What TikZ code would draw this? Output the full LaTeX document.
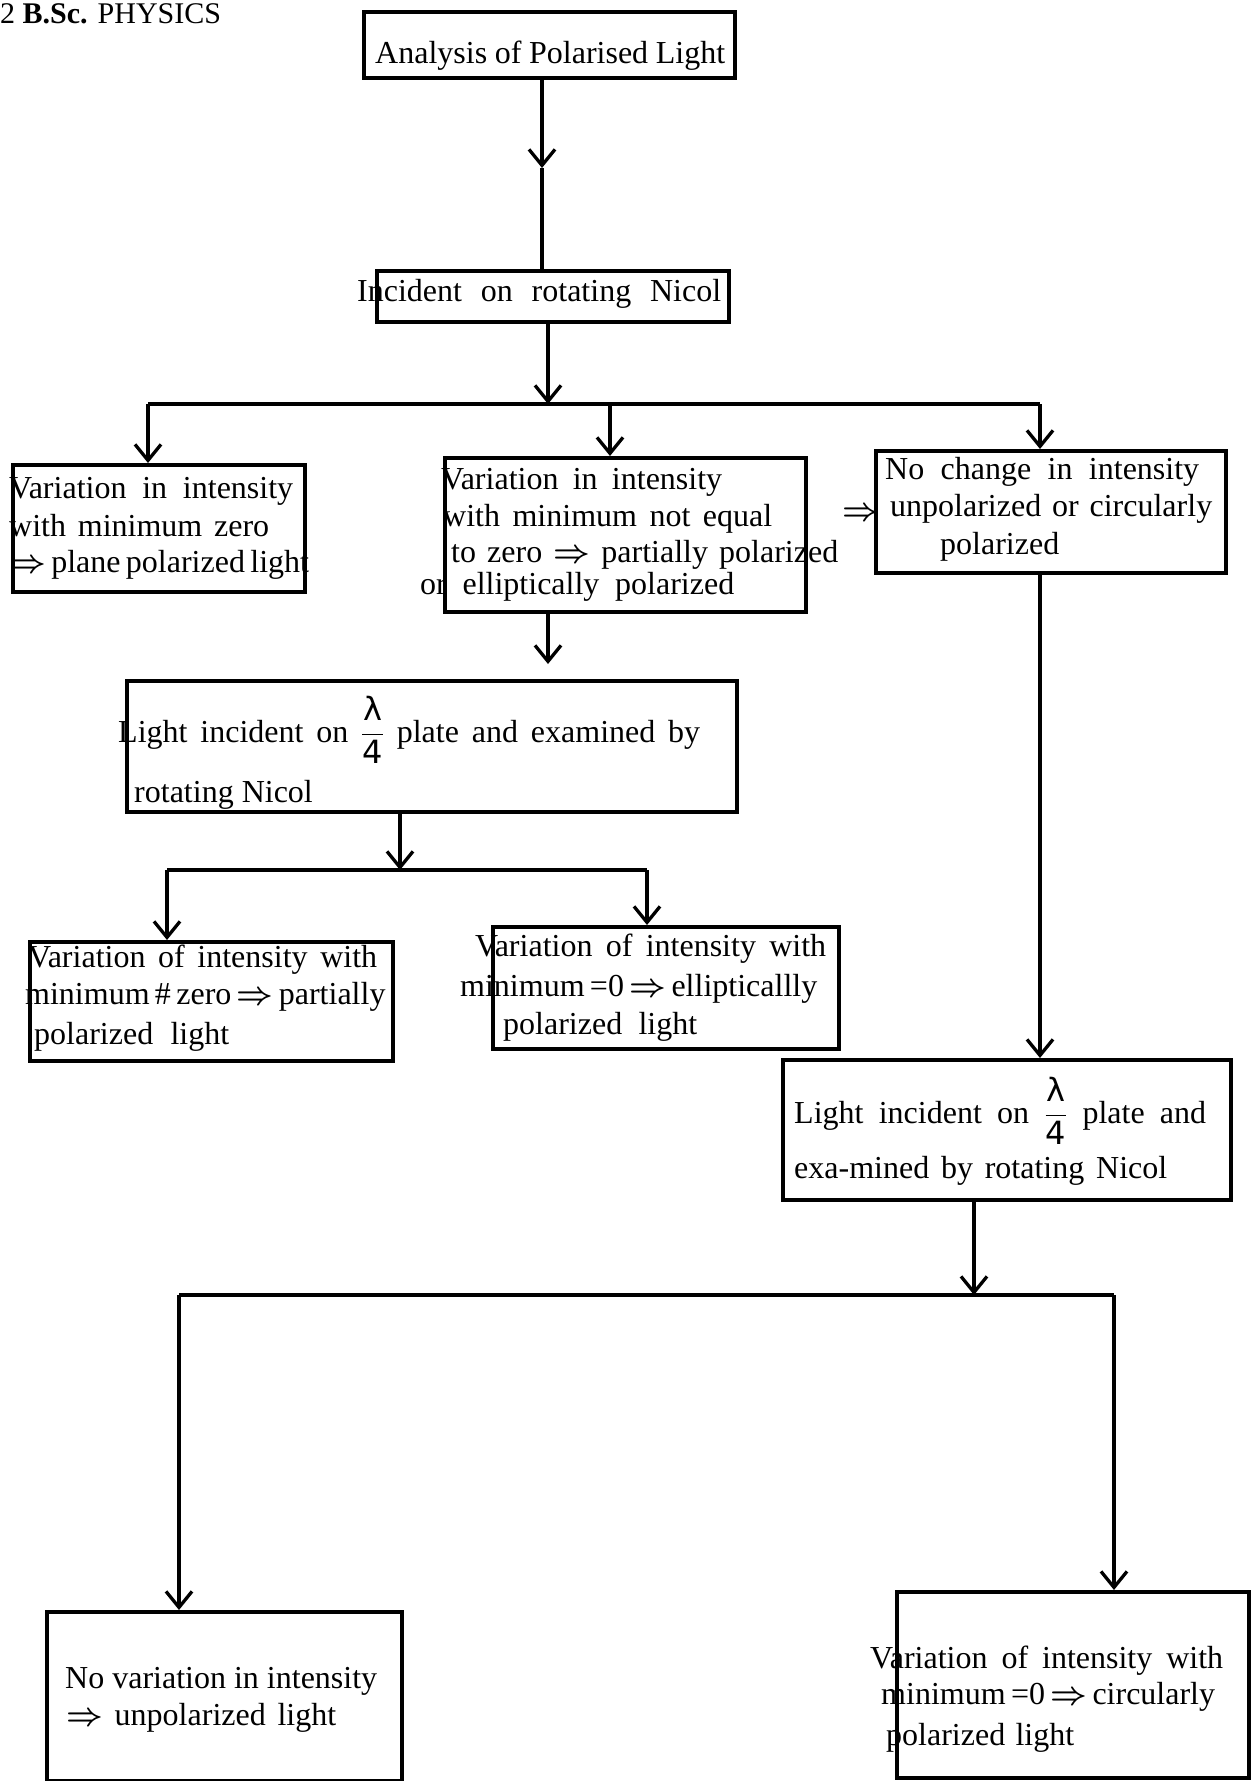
\RequirePackage{fix-cm}
\documentclass[tikz,border=0pt]{standalone}
\usepackage{amsmath}
\usepackage{fontspec}
\setmainfont{Liberation Serif}
\newfontfamily\lamfont{DejaVu Sans}
\usetikzlibrary{arrows.meta}

% a line of text spread to a given width (in pt)
\newcommand\fitline[2]{\makebox[#1pt][s]{#2}}
% implication arrow and the quarter-wave fraction
\newcommand\impl{\ensuremath{\boldsymbol{\Rightarrow}}}
\newcommand\frq{$\displaystyle\frac{\text{\lamfont λ}}{\text{\lamfont 4}}$}

\begin{document}
\begin{tikzpicture}[x=1pt,y=-1pt,
  box/.style={draw, line width=3.5pt, rectangle, anchor=north west, inner sep=0pt},
  ln/.style={anchor=base west, inner sep=0pt, font=\fontsize{32}{38}\selectfont},
  conn/.style={line width=3.3pt},
  arr/.style={conn, -{Straight Barb[length=16pt,width=26pt,line width=3.3pt]}},
]
\useasboundingbox (0,0) rectangle (1257,1781);
\fill[white] (0,0) rectangle (1257,1781);
\clip (0,0) rectangle (1257,1781);

% running head
\node[anchor=base west, inner sep=0pt, font=\fontsize{30}{36}\selectfont] (head) at (0,23)
  {2 \textbf{B.Sc.} PHYSICS};

% boxes
\node[box, minimum width=371pt, minimum height=66pt] (B1) at (362,10) {};
\node[box, minimum width=352pt, minimum height=51pt] (B2) at (375,269) {};
\node[box, minimum width=292pt, minimum height=127pt] (L1) at (11,463) {};
\node[box, minimum width=361pt, minimum height=154pt] (M1) at (443,456) {};
\node[box, minimum width=350pt, minimum height=122pt] (R1) at (874,449) {};
\node[box, minimum width=610pt, minimum height=131pt] (M2) at (125,679) {};
\node[box, minimum width=363pt, minimum height=119pt] (L2) at (28,940) {};
\node[box, minimum width=346pt, minimum height=122pt] (M3) at (491,925) {};
\node[box, minimum width=448pt, minimum height=140pt] (R2) at (781,1058) {};
\node[box, minimum width=355pt, minimum height=169pt] (L3) at (45,1610) {};
\node[box, minimum width=352pt, minimum height=186pt] (R3) at (895,1590) {};

% texts
\node[ln] (t1) at (375,63) {\fitline{350}{Analysis of Polarised Light}};
\node[ln] (t2) at (357,301) {\fitline{364}{Incident on rotating Nicol}};

\node[ln] (tL1a) at (9,498) {\fitline{284}{Variation in intensity}};
\node[ln] (tL1b) at (9,536) {\fitline{260}{with minimum zero}};
\node[ln] (tL1c) at (9,572) {\fitline{292}{\impl{} plane polarized light}};

\node[ln] (tM1a) at (441,489) {\fitline{281}{Variation in intensity}};
\node[ln] (tM1b) at (443,526) {\fitline{329}{with minimum not equal}};
\node[ln] (tM1c) at (451,562) {\fitline{387}{to zero \impl{} partially polarized}};
\node[ln] (tM1d) at (420,594) {\fitline{314}{or elliptically polarized}};

\node[ln, anchor=center] (imp) at (861,514) {\impl};

\node[ln] (tR1a) at (885,479) {\fitline{314}{No change in intensity}};
\node[ln] (tR1b) at (890,516) {\fitline{322}{unpolarized or circularly}};
\node[ln] (tR1c) at (940,554) {polarized};

\node[ln] (tM2a) at (118,742) {\fitline{582}{Light incident on \frq{} plate and examined by}};
\node[ln] (tM2b) at (134,802) {rotating Nicol};

\node[ln] (tL2a) at (28,967) {\fitline{349}{Variation of intensity with}};
\node[ln] (tL2b) at (25,1004) {\fitline{345}{minimum \# zero\,\impl{} partially}};
\node[ln] (tL2c) at (34,1044) {\fitline{195}{polarized light}};

\node[ln] (tM3a) at (475,956) {\fitline{351}{Variation of intensity with}};
\node[ln] (tM3b) at (460,996) {\fitline{341}{minimum =0\,\impl{}\,ellipticallly}};
\node[ln] (tM3c) at (503,1034) {\fitline{194}{polarized light}};

\node[ln] (tR2a) at (794,1123) {\fitline{412}{Light incident on \frq{} plate and}};
\node[ln] (tR2b) at (794,1178) {\fitline{373}{exa-mined by rotating Nicol}};

\node[ln] (tL3a) at (65,1688) {\fitline{312}{No variation in intensity}};
\node[ln] (tL3b) at (66,1725) {\fitline{270}{\impl{} unpolarized light}};

\node[ln] (tR3a) at (870,1668) {\fitline{353}{Variation of intensity with}};
\node[ln] (tR3b) at (881,1704) {\fitline{333}{minimum =0\,\impl{}\,circularly}};
\node[ln] (tR3c) at (886,1745) {\fitline{188}{polarized light}};

% junction points of the connectors
\coordinate (a1) at (542,168);
\coordinate (j1) at (548,404);
\coordinate (h1l) at (148,404);
\coordinate (h1m) at (610,404);
\coordinate (h1r) at (1040,404);
\coordinate (c2) at (548,640);
\coordinate (j2) at (400,870);
\coordinate (h2l) at (167,870);
\coordinate (h2r) at (647,870);
\coordinate (c3) at (1040,800);
\coordinate (j3) at (974,1295);
\coordinate (h3l) at (179,1295);
\coordinate (h3r) at (1114,1295);

% connectors
\draw[arr] (B1.south -| a1) -- (a1);
\draw[conn] (a1) -- (a1 |- B2.north);

\draw[arr] (B2.south -| j1) -- (j1);
\draw[conn] (h1l) -- (h1r);
\draw[arr] (h1l) -- (h1l |- L1.north);
\draw[arr] (h1m) -- (h1m |- M1.north);
\draw[arr] (h1r) -- (h1r |- R1.north);

\draw[arr, shorten >=15pt] (M1.south -| c2) -- (c2 |- M2.north);

\draw[arr] (M2.south -| j2) -- (j2);
\draw[conn] (h2l) -- (h2r);
\draw[arr] (h2l) -- (h2l |- L2.north);
\draw[arr] (h2r) -- (h2r |- M3.north);

\draw[arr] (R1.south -| c3) -- (c3 |- R2.north);

\draw[arr] (R2.south -| j3) -- (j3);
\draw[conn] (h3l) -- (h3r);
\draw[arr] (h3l) -- (h3l |- L3.north);
\draw[arr] (h3r) -- (h3r |- R3.north);
\end{tikzpicture}
\end{document}
